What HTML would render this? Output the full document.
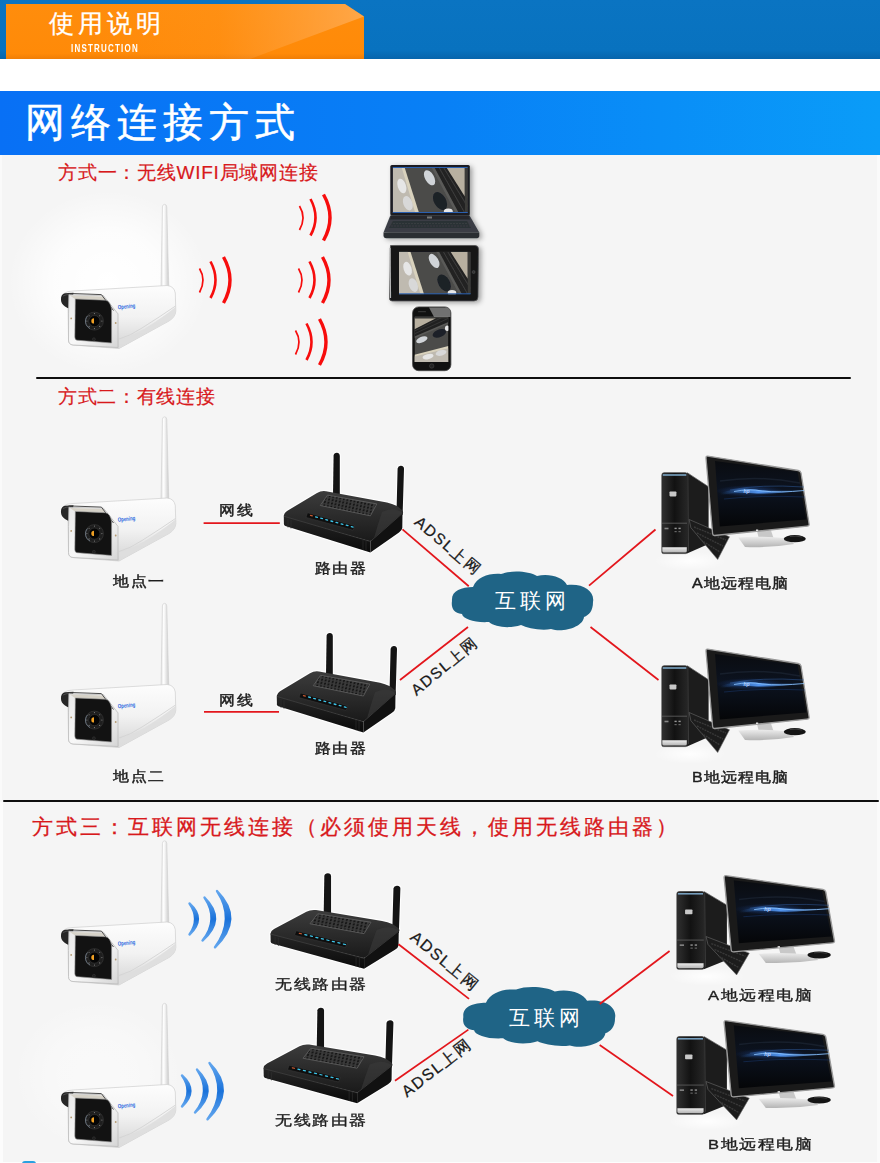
<!DOCTYPE html>
<html><head><meta charset="utf-8">
<style>
*{margin:0;padding:0;box-sizing:border-box}
html,body{width:880px;height:1163px;overflow:hidden;background:#f5f5f5;font-family:"Liberation Sans",sans-serif}
.abs{position:absolute}
.t{position:absolute;white-space:nowrap;line-height:1}
.red{color:#d8191c;-webkit-text-stroke:0.2px #d8191c}
.lbl{color:#1e1e1e}
.b2{-webkit-text-stroke:0.5px #1e1e1e;transform:scaleY(0.88);transform-origin:0 50%}
.b3{-webkit-text-stroke:0.45px #1e1e1e;transform:scaleY(0.83);transform-origin:0 50%}
</style></head>
<body>
<div class="abs" style="left:0;top:0;width:880px;height:59px;background:linear-gradient(180deg,#0a74c2 0%,#0872bf 85%,#0765ac 100%)"></div>
<svg class="abs" style="left:0;top:0" width="880" height="60">
  <defs>
    <linearGradient id="og" x1="0" y1="0" x2="0" y2="1">
      <stop offset="0" stop-color="#ff8d0c"/><stop offset="0.9" stop-color="#ff8a08"/><stop offset="1" stop-color="#f07e06"/>
    </linearGradient>
    <linearGradient id="ol" x1="0" y1="0" x2="1" y2="0">
      <stop offset="0" stop-color="#ffb060" stop-opacity="0"/><stop offset="0.45" stop-color="#ffb060" stop-opacity="0.15"/><stop offset="1" stop-color="#ffb870" stop-opacity="1"/>
    </linearGradient>
  </defs>
  <path d="M6,4 L345,4 L364,16.5 L364,59 L6,59 Z" fill="url(#og)"/>
  <path d="M100,4 L345,4 L364,16.5 L250,59 L100,59 Z" fill="url(#ol)" opacity="0.6"/>
</svg>
<div class="t" style="left:49px;top:10.5px;font-size:25px;color:#fff;letter-spacing:4px;-webkit-text-stroke:0.3px #fff">使用说明</div>
<div class="t" style="left:71px;top:42.5px;font-size:10.5px;color:#fff;font-weight:bold;letter-spacing:1.6px;transform:scaleX(0.76);transform-origin:0 0">INSTRUCTION</div>
<div class="abs" style="left:0;top:59px;width:880px;height:32px;background:#fff"></div>
<div class="abs" style="left:0;top:91px;width:880px;height:64px;background:linear-gradient(90deg,#0870f5 0%,#0880f6 50%,#0a9cf8 100%)"></div>
<div class="t" style="left:25px;top:101.5px;font-size:40px;color:#fff;letter-spacing:6px;-webkit-text-stroke:0.5px #fff">网络连接方式</div>
<div class="abs" style="left:0;top:155px;width:880px;height:1008px;background:#f5f5f5"></div>
<div class="abs" style="left:877px;top:155px;width:3px;height:1008px;background:#fafafa"></div>
<div class="abs" style="left:0;top:155px;width:1.5px;height:645px;background:#fafafa"></div>
<div class="abs" style="left:0;top:802px;width:3px;height:361px;background:#fcfcfc"></div>
<div class="abs" style="left:0;top:1162px;width:880px;height:1px;background:#fdfdfd"></div>
<div class="abs" style="left:22px;top:1161px;width:14px;height:3px;border-radius:7px 7px 0 0;background:#2aa0e0"></div>

<div class="t red" style="left:58px;top:163px;font-size:19px;letter-spacing:0.75px">方式一：无线WIFI局域网连接</div>
<div class="abs" style="left:36px;top:376.5px;width:815px;height:2.6px;background:#0e0e0e;border-radius:1px"></div>
<div class="t red" style="left:58px;top:387px;font-size:19px;letter-spacing:0.65px">方式二：有线连接</div>
<div class="abs" style="left:3px;top:799.5px;width:876px;height:2.6px;background:#0e0e0e;border-radius:1px"></div>
<div class="t red" style="left:32px;top:816.5px;font-size:20.5px;letter-spacing:3px;-webkit-text-stroke:0.3px #d8191c">方式三：互联网无线连接（必须使用天线，使用无线路由器）</div>
<svg class="abs" style="left:0;top:0" width="880" height="1163" viewBox="0 0 880 1163">
<defs>
  <radialGradient id="glow" cx="0.5" cy="0.5" r="0.5">
    <stop offset="0" stop-color="#fff" stop-opacity="1"/>
    <stop offset="0.55" stop-color="#fff" stop-opacity="0.75"/>
    <stop offset="1" stop-color="#fff" stop-opacity="0"/>
  </radialGradient>
  <linearGradient id="camBody" x1="0" y1="0" x2="0" y2="1">
    <stop offset="0" stop-color="#fdfdfd"/><stop offset="0.5" stop-color="#f2f2f2"/><stop offset="1" stop-color="#d4d4d4"/>
  </linearGradient>
  <linearGradient id="camFrame" x1="0" y1="0" x2="1" y2="1">
    <stop offset="0" stop-color="#e8e8e8"/><stop offset="0.5" stop-color="#f8f8f8"/><stop offset="1" stop-color="#d6d6d6"/>
  </linearGradient>
  <linearGradient id="ant" x1="0" y1="0" x2="1" y2="0">
    <stop offset="0" stop-color="#e2e2e2"/><stop offset="0.35" stop-color="#ffffff"/><stop offset="1" stop-color="#cacaca"/>
  </linearGradient>
  <symbol id="cam" viewBox="0 0 160 170" width="160" height="170">
    <path d="M121,98 L122.4,17 Q122.6,14.3 124.6,14.3 Q126.6,14.3 126.8,17 L128.8,98 Z" fill="url(#ant)" stroke="#cfcfcf" stroke-width="0.6"/>
    <path d="M24,103.5 Q27,101 33,101 L127,95.5 Q134,96 135.3,103 L135.8,121 Q135.5,127 129,131 L79,158.5 L33,155 Q28.5,154.5 28.5,150 L28,118 Q22,113 22,107 Z" fill="url(#camBody)" stroke="#cfcfcf" stroke-width="0.7"/>
    <path d="M135.5,116 Q121,126 102,138 Q90,146 79,149" fill="none" stroke="#d4d4d4" stroke-width="0.9"/>
    <path d="M79,150 Q92,146 104,139 Q122,128 135.5,117 L135.8,121 Q135.5,127 129,131 L79,158.5 Z" fill="#dedede" opacity="0.9"/>
    <path d="M21,110 Q20.5,104.5 25,103.3 L33.5,102.8 L31,118.5 Q28,119 25,116.5 Q21,113.5 21,110 Z" fill="#262626"/>
    <path d="M23,106 Q26,104.5 30,104.3" stroke="#5a5a5a" stroke-width="0.7" fill="none"/>
    <path d="M28.9,104.8 L63.5,105.7 L78,123.9 L78,157.5 L33,155 Q28.5,154.5 28.5,150 L28.5,123.9 Z" fill="url(#camFrame)" stroke="#bdbdbd" stroke-width="0.8"/>
    <path d="M30,105.5 L63,106.5 L66,110.5 L35,108.9 Z" fill="#d6d2c8"/>
    <path d="M28.6,103.4 L61.4,104.6 L73.5,120.5" stroke="#3a3a3a" stroke-width="0.9" fill="none"/>
    <path d="M35.3,108.9 L65.3,110.2 Q70.5,111 71.6,119.3 L71.6,153 L37.1,150.2 Q34.8,150 34.8,147 Z" fill="#121212" stroke="#9a9a9a" stroke-width="0.6"/>
    <circle cx="54.4" cy="131.1" r="9" fill="#1e1e1e" stroke="#303030" stroke-width="0.9"/>
    <path d="M47.5,126 A8,8 0 0,0 50,138.5" stroke="#7a8694" stroke-width="0.8" fill="none"/>
    <circle cx="54.4" cy="131.1" r="5.6" fill="#050505" stroke="#3a3a3a" stroke-width="0.6"/>
    <g fill="#8a8a8a">
      <circle cx="54.4" cy="123.6" r="0.55"/><circle cx="59.7" cy="125.8" r="0.55"/><circle cx="61.9" cy="131.1" r="0.55"/>
      <circle cx="59.7" cy="136.4" r="0.55"/><circle cx="54.4" cy="138.6" r="0.55"/><circle cx="49.1" cy="136.4" r="0.55"/>
      <circle cx="46.9" cy="131.1" r="0.55"/><circle cx="49.1" cy="125.8" r="0.55"/>
    </g>
    <path d="M54,128.2 A2.7,2.7 0 0,0 54,133.6 Z" fill="#f0a024"/>
    <circle cx="53.9" cy="149.3" r="1.5" fill="#1e1e1e" stroke="#3a3a3a" stroke-width="0.5"/>
    <circle cx="31.2" cy="128.4" r="0.9" fill="#b59a70"/>
    <circle cx="75.7" cy="133" r="0.9" fill="#b59a70"/>
    <text x="78" y="119.3" font-size="6" font-weight="bold" fill="#2a6ae0" font-family="Liberation Sans" transform="rotate(-6 78 119)" textLength="17.5" lengthAdjust="spacingAndGlyphs">Opening</text>
  </symbol>

  <linearGradient id="rtTop" x1="0" y1="0" x2="0" y2="1">
    <stop offset="0" stop-color="#3c3c3c"/><stop offset="1" stop-color="#1a1a1a"/>
  </linearGradient>
  <linearGradient id="rtFront" x1="0" y1="0" x2="0" y2="1">
    <stop offset="0" stop-color="#262626"/><stop offset="1" stop-color="#0a0a0a"/>
  </linearGradient>
  <pattern id="vent" width="3.6" height="3.4" patternUnits="userSpaceOnUse" patternTransform="rotate(12)">
    <rect width="3.6" height="3.4" fill="#3a3a3a"/><ellipse cx="1.8" cy="1.7" rx="0.8" ry="1.25" fill="#0e0e0e" transform="rotate(20 1.8 1.7)"/>
  </pattern>
  <symbol id="router" viewBox="0 0 150 130" width="150" height="130" overflow="visible">
    <g fill="#fff" stroke="#fff" stroke-width="2.2" stroke-linejoin="round" opacity="0.9"><path d="M13.75,75.5 Q14,73 17,71 L47,53 Q51,50.5 56,51.2 L117,62.5 Q122,63.5 127,66 L132,70 Q134,72 132.5,74 L132.3,88 Q132,90.5 129,92.5 L100.4,112.4 L15.3,86.1 Q14,85.5 13.9,84 Z"/><path d="M63,55 L63.6,15.5 Q64,12.8 66.8,12.8 Q69.8,13 69.8,16 L69.8,57 Z"/><path d="M126.5,73 L127.6,28.5 Q128.2,25.6 131,25.8 Q134.2,26.2 134,29 L132.6,75 Z"/></g>
    <path d="M63,55 L63.6,15.5 Q64,12.8 66.8,12.8 Q69.8,13 69.8,16 L69.8,57 Z" fill="#141414"/>
    <path d="M126.5,73 L127.6,28.5 Q128.2,25.6 131,25.8 Q134.2,26.2 134,29 L132.6,75 Z" fill="#141414"/>
    <path d="M13.75,75.5 Q14,73 17,71 L47,53 Q51,50.5 56,51.2 L117,62.5 Q122,63.5 127,66 L132,70 Q134,72 132.5,74 L103,99.5 Q101.5,101.3 99,101 L17,78 Q13.5,77 13.75,75.5 Z" fill="url(#rtTop)"/>
    <path d="M112,72 Q124,66 132.5,73 L104,98 Q108,84 112,72 Z" fill="#3a3a3a" opacity="0.6"/>
    <path d="M13.75,76 L100.4,101.2 L100.4,112.4 L15.3,86.1 Q14,85.5 13.9,84 Z" fill="url(#rtFront)"/>
    <path d="M100.4,101.2 L132.5,73 L132.3,88 Q132,90.5 129,92.5 L100.4,112.4 Z" fill="#111"/>
    <path d="M57.5,55.1 L106.8,63.9 L100.4,75.8 L50.3,65.5 Z" fill="url(#vent)" stroke="#5c5c5c" stroke-width="0.9" stroke-linejoin="round"/>
    <path d="M37.5,72.8 L85,85.6 L83.2,90.2 L36,77.4 Z" fill="#0e0e0e" stroke="#3c3c3c" stroke-width="0.5"/>
    <g stroke="#3ec6ea" stroke-width="1.3" stroke-linecap="round">
      <path d="M40.5,75.4 L42.3,75.9" stroke="#c85a30"/>
      <path d="M45.6,76.8 L47.4,77.3"/><path d="M50.7,78.2 L52.5,78.7"/><path d="M55.8,79.6 L57.6,80.1"/>
      <path d="M60.9,81 L62.7,81.5"/><path d="M66,82.4 L67.8,82.9"/><path d="M71.1,83.8 L72.9,84.3"/>
      <path d="M76.2,85.2 L78,85.7"/><path d="M81.3,86.6 L83.1,87.1"/>
    </g>
    <path d="M14,76.3 L100.4,101.5 L132.5,73.3" stroke="#484848" stroke-width="0.6" fill="none"/>
    <path d="M18,79 L18,87.5 M21,80 L21,88.5" stroke="#2e2e2e" stroke-width="0.8"/>
    <path d="M93,99.5 L93,110 M96,100.5 L96,111" stroke="#2a2a2a" stroke-width="0.8"/>
  </symbol>

  <linearGradient id="scr" x1="0" y1="0" x2="0" y2="1">
    <stop offset="0" stop-color="#0a0c10"/><stop offset="0.45" stop-color="#0c1320"/><stop offset="1" stop-color="#050608"/>
  </linearGradient>
  <linearGradient id="streak" x1="0" y1="0" x2="1" y2="0">
    <stop offset="0" stop-color="#3070c0" stop-opacity="0"/><stop offset="0.45" stop-color="#5aa0ff" stop-opacity="0.9"/><stop offset="1" stop-color="#3070c0" stop-opacity="0.1"/>
  </linearGradient>
  <linearGradient id="towerF" x1="0" y1="0" x2="1" y2="0">
    <stop offset="0" stop-color="#303030"/><stop offset="0.5" stop-color="#121212"/><stop offset="1" stop-color="#262626"/>
  </linearGradient>
  <radialGradient id="glowB" cx="0.5" cy="0.5" r="0.5">
    <stop offset="0" stop-color="#2a68c0" stop-opacity="0.7"/><stop offset="1" stop-color="#1a3a80" stop-opacity="0"/>
  </radialGradient>
  <linearGradient id="silver" x1="0" y1="0" x2="0" y2="1">
    <stop offset="0" stop-color="#ececec"/><stop offset="1" stop-color="#b4b4b4"/>
  </linearGradient>
  <radialGradient id="refl" cx="0.5" cy="0.5" r="0.5">
    <stop offset="0" stop-color="#fff" stop-opacity="0.9"/><stop offset="1" stop-color="#fff" stop-opacity="0"/>
  </radialGradient>
  <symbol id="pc" viewBox="0 0 180 155" width="180" height="155" overflow="visible">
    <ellipse cx="40" cy="116" rx="36" ry="10" fill="url(#refl)"/>
    <path d="M37,27.7 L58.6,41.8 L58.6,99 L37,108.6 Z" fill="#1c1c1c"/>
    <path d="M37.3,27.7 L58.6,41.8" stroke="#555" stroke-width="0.7"/>
    <path d="M37.8,29 L38.5,106" stroke="#444" stroke-width="0.8"/>
    <path d="M11.8,30 Q11.8,27.7 14,27.7 L35.5,27.7 Q37.3,27.7 37.3,29.5 L37.3,107 Q37.3,108.6 35.5,108.6 L13.5,108.6 Q11.8,108.6 11.8,107 Z" fill="url(#towerF)" stroke="#2e2e2e" stroke-width="0.6"/>
    <path d="M12.8,30 L36.3,30" stroke="#7aa4c4" stroke-width="1.6"/>
    <path d="M12,78.2 L37,78.2" stroke="#5a5a5a" stroke-width="0.9"/>
    <path d="M12.3,102.3 L36.8,102.3 L36.8,106 Q36.8,107.5 35,107.5 L14,107.5 Q12.3,107.5 12.3,106 Z" fill="url(#silver)"/>
    <rect x="19.5" y="46.4" width="6.9" height="5" rx="0.8" fill="#c8c8c8"/>
    <rect x="14.5" y="82.7" width="4" height="1.6" fill="#888"/>
    <rect x="24.5" y="82.7" width="2.2" height="1.4" fill="#999"/><rect x="28.5" y="82.7" width="2.2" height="1.4" fill="#999"/>
    <rect x="24.5" y="86" width="2.2" height="1.2" fill="#666"/><rect x="28.5" y="86" width="2.2" height="1.2" fill="#666"/>
    <path d="M39.1,74.5 L79.5,91.8 L67.7,114.5 L40.9,82.7 Z" fill="#1c1c1c" stroke="#6a6a6a" stroke-width="0.6"/>
    <path d="M44,82 L76,95 M47,88 L73,101 M51,95 L70,107" stroke="#383838" stroke-width="1.4" stroke-dasharray="2 0.8"/>
    <path d="M107,86 L121,85.5 L123.5,93 L109,94 Z" fill="#c8c8c8"/>
    <path d="M88.2,92.5 Q110,90.5 138.7,93.5 L144.1,99 Q120,103 95,102 Z" fill="url(#silver)"/>
    <ellipse cx="144.8" cy="93.7" rx="11" ry="3.6" fill="#141414"/>
    <path d="M140,91.5 Q146,90.5 152,92" stroke="#555" stroke-width="0.6" fill="none"/>
    <path d="M57.5,11.1 L148.2,25.5 Q150.5,26 151,28 L159.1,79 Q159.4,81 157,81.2 L64.5,90.5 Q62.8,90.6 62.6,88.6 L56,13 Q56,11 57.5,11.1 Z" fill="#1a1a1a" stroke="#9a9a9a" stroke-width="1.3"/>
    <path d="M65,16 L147.5,26.8 L156.4,74.6 L69.8,81.4 Z" fill="url(#scr)"/>
    <ellipse cx="100" cy="46" rx="34" ry="6" fill="url(#glowB)"/>
    <path d="M70,48 Q90,42 100,44 Q120,47 156,45 Q122,50 100,48 Q88,47 70,50 Z" fill="url(#streak)"/>
    <path d="M84,46.5 Q100,43.5 112,46 Q130,48 154,45.5" stroke="#8cc4ff" stroke-width="0.9" fill="none" opacity="0.9"/>
    <path d="M80,45 Q110,39 154,42" stroke="#3a70c0" stroke-width="0.8" fill="none" opacity="0.5"/>
    <path d="M74,54 Q110,50 155,52" stroke="#1a3a70" stroke-width="1" fill="none" opacity="0.5"/>
    <path d="M70,36 Q110,30 150,38" stroke="#202a38" stroke-width="1.5" fill="none" opacity="0.6"/>
    <text x="93.5" y="47.5" font-size="5" fill="#b8d4ff" font-family="Liberation Sans" font-style="italic" font-weight="bold">hp</text>
    <rect x="106" y="84.5" width="2.2" height="1.6" fill="#e0e0e0"/>
  </symbol>

  <symbol id="cloud" viewBox="0 0 155 75" width="155" height="75" overflow="visible">
    <path d="M7,36 C6,26 16,22 28,22 C32,12 44,8 56,9 C66,5 84,6 92,11 C104,8 118,12 122,20 C138,18 150,26 148,37 C148,46 144,50 139,52 C138,62 118,68 106,64 C96,66 82,63 76,60 C64,64 50,62 44,57 C30,58 18,54 17,49 C8,48 6,42 7,36 Z" fill="#1f6486"/>
  </symbol>

  <symbol id="cctv" viewBox="0 0 100 60" width="100" height="60" preserveAspectRatio="none">
    <rect width="100" height="60" fill="#4b4b49"/>
    <path d="M0,0 L16,0 L35,60 L0,60 Z" fill="#d9d2bd"/>
    <path d="M0,0 L12,0 L30,60 L0,60 Z" fill="#bfbab0"/>
    <path d="M52,0 L100,0 L100,60 L84,60 Z" fill="#5a5a58"/>
    <path d="M56,0 L100,0 L100,60 L88,60 Z" fill="#202020"/>
    <path d="M62,0 L96,60 M68,0 L100,52 M74,0 L100,40" stroke="#3c3c3c" stroke-width="1.5"/>
    <path d="M72,0 L96,0 L96,38 Z" fill="#b8b0a0"/>
    <rect x="96" y="0" width="4" height="60" fill="#3a3a38"/>
    <ellipse cx="12" cy="24" rx="5.5" ry="10" fill="#e6e6e6" transform="rotate(-18 12 24)"/>
    <ellipse cx="20" cy="47" rx="6" ry="10" fill="#d8d8d8" transform="rotate(-20 20 47)"/>
    <ellipse cx="49" cy="13" rx="6" ry="11" fill="#d0d4d8" transform="rotate(-30 49 13)"/>
    <ellipse cx="63" cy="44" rx="8" ry="13" fill="#1c2028" transform="rotate(-30 63 44)"/>
    <ellipse cx="74" cy="58" rx="6" ry="4" fill="#e8e8e8"/>
  </symbol>
</defs>
<ellipse cx="108" cy="282" rx="100" ry="92" fill="url(#glow)"/>
<use href="#cam" x="40" y="190"/>
<use href="#cam" x="40" y="402.5"/>
<use href="#cam" x="40" y="589"/>
<use href="#cam" x="40" y="826.5"/>
<ellipse cx="98" cy="1075" rx="85" ry="75" fill="url(#glow)" opacity="0.45"/>
<use href="#cam" x="40" y="989"/>

<use href="#router" x="270" y="440"/>
<use href="#router" x="263" y="620.2"/>
<use href="#router" transform="translate(255.65 860.9) scale(1.08 0.96)"/>
<use href="#router" transform="translate(248.7 995.4) scale(1.08 0.96)"/>

<use href="#pc" x="650" y="445"/>
<use href="#pc" x="650" y="638"/>
<use href="#pc" transform="translate(664.2 865) scale(1.07 0.96)"/>
<use href="#pc" transform="translate(664.2 1010) scale(1.07 0.96)"/>

<use href="#cloud" x="445" y="565"/>
<use href="#cloud" transform="translate(455.8 980.4) scale(1.076 1.016)"/>

<defs><filter id="ds" x="-20%" y="-20%" width="150%" height="150%"><feDropShadow dx="2.5" dy="1.5" stdDeviation="2.5" flood-color="#000" flood-opacity="0.35"/></filter></defs>
<!-- laptop -->
<g filter="url(#ds)">
    <rect x="390.3" y="165" width="79.5" height="50.5" rx="1.5" fill="#1c1f24"/>
  <use href="#cctv" x="392.8" y="168" width="75" height="45"/>
  <path d="M392.8,167.5 L467.7,167.5" stroke="#2a60b0" stroke-width="1"/>
  <path d="M392.8,212.5 L467.7,212.5" stroke="#2a60b0" stroke-width="1.2"/>
  <path d="M390.3,215.5 L469.6,215.5 L479.3,232.5 L383.5,232.5 Z" fill="#3a3e44"/>
  <path d="M391,215.5 L469,215.5 L470,219.5 L390,219.5 Z" fill="#25282c"/>
  <path d="M393,221 L467,221 L471,228 L389,228 Z" fill="#2c3034"/>
  <path d="M393,223.5 L468,223.5 M391,226 L470,226" stroke="#3e4248" stroke-width="0.7" stroke-dasharray="2 1"/>
  <path d="M383.5,232.5 L479.3,232.5 L479.3,236 Q479,238.3 476,238.3 L386,238.3 Q383.5,238 383.5,236 Z" fill="#2a2d31"/>
  <rect x="427" y="216.5" width="5" height="2" fill="#777"/>
</g>
<!-- tablet -->
<g filter="url(#ds)">
  <path d="M390.5,245.5 L475,245.5 Q478.5,245.5 478.5,249 L478,297 Q478,301 474,301 L392,301 Q389,301 389.5,297 Z" fill="#141618" stroke="#555" stroke-width="0.8"/>
  <path d="M390,248 L390.5,298" stroke="#b8b8b8" stroke-width="1.2"/>
  <use href="#cctv" x="399" y="251.7" width="71.6" height="42.6"/>
  <path d="M399,293.8 L470.6,293.8" stroke="#2a60b0" stroke-width="1"/>
  <circle cx="473.6" cy="272" r="1.5" fill="#333" stroke="#555" stroke-width="0.5"/>
</g>
<!-- phone -->
<g>
  <rect x="412.6" y="306.9" width="38.3" height="63.8" rx="6" fill="#111" stroke="#444" stroke-width="0.8"/>
  <use href="#cctv" transform="translate(414.5 362) rotate(-90) scale(0.455 0.565)"/>
  <path d="M429,307.5 L446,307.5 Q450.5,308 450.5,313 L450.5,317 L434,317 Z" fill="#8a8a8a" opacity="0.8"/>
  <rect x="418" y="311" width="8" height="1.3" rx="0.6" fill="#333"/>
  <circle cx="431.7" cy="366" r="2.2" fill="#222" stroke="#444" stroke-width="0.6"/>
</g>

<g stroke="#e3161c" stroke-width="1.75">
  <line x1="203.6" y1="523" x2="279.8" y2="523"/>
  <line x1="204" y1="711.8" x2="279" y2="711.8"/>
  <line x1="402.5" y1="529.4" x2="468.75" y2="586.25"/>
  <line x1="468" y1="627" x2="400" y2="680"/>
  <line x1="589" y1="585.7" x2="655.5" y2="529.5"/>
  <line x1="590.5" y1="627" x2="658.5" y2="680"/>
  <line x1="398.5" y1="944.3" x2="469" y2="998.9"/>
  <line x1="468.4" y1="1029.6" x2="395" y2="1080.7"/>
  <line x1="599.7" y1="1004" x2="669.6" y2="951"/>
  <line x1="599.7" y1="1045" x2="673" y2="1096"/>
</g>
<g font-family="Liberation Sans" font-size="15.5" fill="#1a1a1a" letter-spacing="1.6" stroke="#1a1a1a" stroke-width="0.25">
  <text transform="translate(413.5 523.5) rotate(40.5)">ADSL上网</text>
  <text transform="translate(416.4 696.2) rotate(-39.5)">ADSL上网</text>
  <text transform="translate(409.2 938.8) rotate(39.5)" font-size="16">ADSL上网</text>
  <text transform="translate(407 1097.7) rotate(-38)" font-size="16">ADSL上网</text>
</g>
<g font-family="Liberation Sans" font-size="20.5" fill="#fff" letter-spacing="4">
  <text x="494.5" y="608">互联网</text>
  <text x="509" y="1025">互联网</text>
</g>
<g fill="none" stroke="#f70d0d" stroke-linecap="butt">
  <g id="arcsA">
    <path d="M199.5,268.5 Q206.5,280 199.5,292.5" stroke-width="1.7"/>
    <path d="M210.5,261.5 Q220.5,280 210.5,298" stroke-width="2.6"/>
    <path d="M223.5,257 Q236.5,280 223.5,303" stroke-width="3.4"/>
  </g>
  <use href="#arcsA" x="100" y="-62.5"/>
  <use href="#arcsA" x="99" y="0"/>
  <use href="#arcsA" x="96" y="62"/>
</g>
<defs>
  <linearGradient id="bluearc" x1="0" y1="0" x2="0" y2="1">
    <stop offset="0" stop-color="#62a6ee"/><stop offset="0.5" stop-color="#1a72da"/><stop offset="1" stop-color="#62a6ee"/>
  </linearGradient>
</defs>
<g fill="url(#bluearc)" stroke="url(#bluearc)" stroke-width="2.4" stroke-linejoin="round">
  <g id="arcsE">
    <path d="M189.5,903.5 Q206.3,919 189.5,934.5 Q200.7,919 189.5,903.5 Z"/>
    <path d="M204.5,897.5 Q226.6,919.5 202.5,940.5 Q219.6,919.5 204.5,897.5 Z"/>
    <path d="M217,891 Q244.5,919 215,947.3 Q235.9,919 217,891 Z"/>
  </g>
  <use href="#arcsE" x="-7.5" y="172"/>
</g>
</svg>
<div class="t lbl b2" style="left:113px;top:573.5px;font-size:16px;letter-spacing:1.5px">地点一</div>
<div class="t lbl b2" style="left:113px;top:768.5px;font-size:16px;letter-spacing:1.5px">地点二</div>
<div class="t lbl b2" style="left:314.5px;top:561px;font-size:16px;letter-spacing:1.5px">路由器</div>
<div class="t lbl b2" style="left:314.5px;top:741px;font-size:16px;letter-spacing:1.5px">路由器</div>
<div class="t lbl b2" style="left:219px;top:502.5px;font-size:16px;letter-spacing:1.5px">网线</div>
<div class="t lbl b2" style="left:219px;top:692.5px;font-size:16px;letter-spacing:1.5px">网线</div>
<div class="t lbl b2" style="left:692px;top:575.5px;font-size:16px;letter-spacing:1px">A地远程电脑</div>
<div class="t lbl b2" style="left:692px;top:769.5px;font-size:16px;letter-spacing:1px">B地远程电脑</div>
<div class="t lbl b3" style="left:275px;top:976px;font-size:16.5px;letter-spacing:1.55px">无线路由器</div>
<div class="t lbl b3" style="left:275px;top:1112px;font-size:16.5px;letter-spacing:1.55px">无线路由器</div>
<div class="t lbl b3" style="left:708px;top:986.5px;font-size:16.5px;letter-spacing:1.55px">A地远程电脑</div>
<div class="t lbl b3" style="left:708px;top:1135.5px;font-size:16.5px;letter-spacing:1.55px">B地远程电脑</div>
</body></html>
